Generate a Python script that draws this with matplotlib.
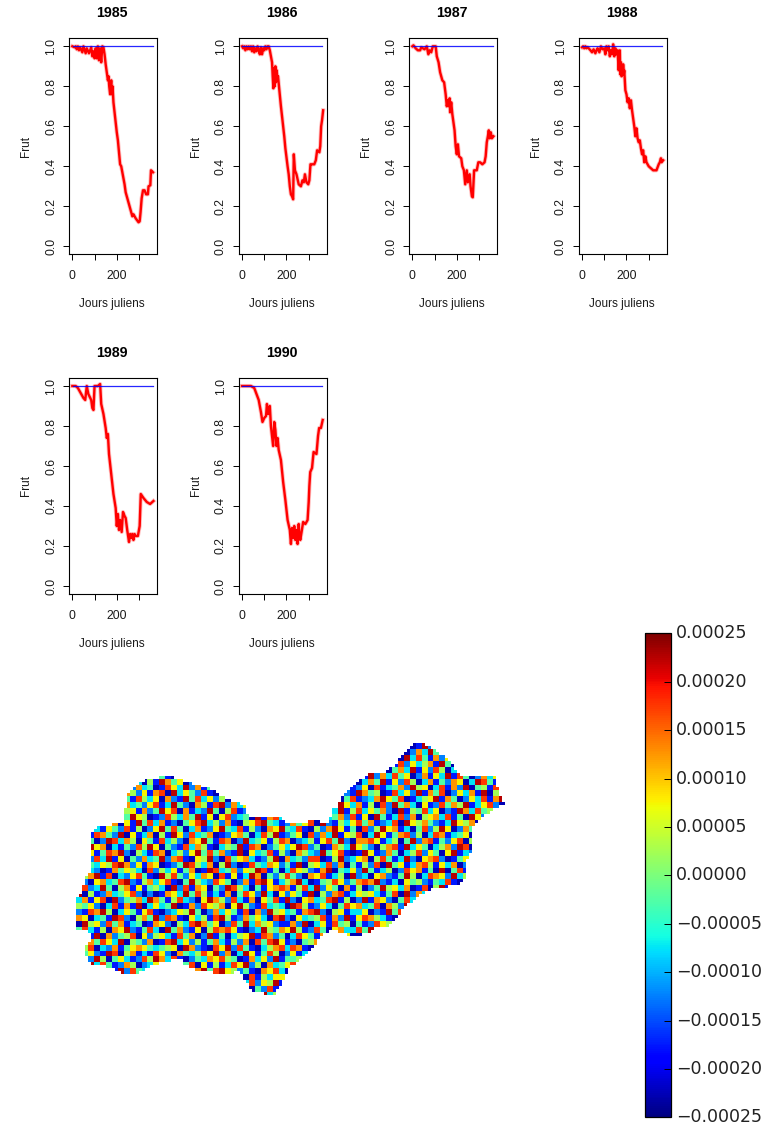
import numpy as np
import matplotlib
matplotlib.use('Agg')
import matplotlib.pyplot as plt
from matplotlib.colors import Normalize

plt.rcParams['font.family'] = ['Liberation Sans', 'DejaVu Sans']

W, H = 776, 1125
YEARS = [1985, 1986, 1987, 1988, 1989, 1990]
XTICKS = [0, 100, 200, 300]
XTICKLABELS = ['0', '', '200', '']
YTICKS = [0.0, 0.2, 0.4, 0.6, 0.8, 1.0]
CBAR_TICKS = [-0.00025, -0.00020, -0.00015, -0.00010, -0.00005, 0.0,
              0.00005, 0.00010, 0.00015, 0.00020, 0.00025]

days_1985 = [0,10,15,20,25,30,35,45,50,60,65,75,85,90,95,100,105,110,115,120,125,130,135,140,145,150,155,160,163,166,170,175,178,181,185,190,195,200,205,210,215,220,225,235,240,250,260,265,270,275,285,298,303,307,312,318,325,332,340,343,351,354,363]
frut_1985 = [1.0,.995,1.0,.985,1.0,.98,.995,.97,1.0,.965,.99,.965,.995,.95,.975,.94,.99,.94,1.0,.93,.99,.92,1.0,.995,.96,.91,.87,.83,.85,.80,.76,.83,.76,.8,.72,.67,.62,.57,.53,.47,.41,.40,.37,.31,.27,.23,.19,.17,.15,.16,.14,.12,.125,.17,.24,.28,.28,.26,.26,.30,.305,.38,.37]
days_1986 = [0,5,10,15,20,25,30,35,40,45,50,55,60,65,70,75,80,85,90,95,100,105,110,115,120,125,130,135,138,141,144,147,150,153,156,159,162,168,175,180,190,195,205,210,215,220,225,230,233,238,245,255,265,272,278,283,290,298,303,308,315,325,332,338,348,352,356,360,365]
frut_1986 = [1.0,.99,1.0,.98,1.0,.985,1.0,.985,1.0,.975,1.0,.97,.99,.975,1.0,.98,.96,.995,.96,.99,.98,1.0,.985,1.0,1.0,.98,.95,.92,.85,.79,.89,.80,.90,.82,.88,.84,.85,.78,.70,.65,.55,.49,.40,.36,.30,.26,.25,.235,.46,.38,.36,.31,.30,.33,.32,.36,.32,.31,.33,.41,.41,.41,.43,.48,.47,.50,.60,.63,.68]
days_1987 = [0,5,15,25,35,40,55,65,72,78,85,92,105,110,118,125,135,143,150,155,160,165,168,170,175,180,190,195,200,205,210,220,225,232,238,245,250,258,262,268,272,278,290,297,305,315,325,330,335,340,344,348,353,358,365]
frut_1987 = [1.0,1.005,.99,.98,.98,.995,.985,1.0,.96,.98,.97,1.0,1.0,.95,.92,.87,.83,.82,.76,.70,.73,.70,.74,.67,.72,.66,.58,.50,.46,.51,.45,.44,.40,.38,.31,.38,.32,.36,.30,.25,.245,.38,.38,.42,.42,.41,.42,.45,.52,.55,.58,.54,.57,.54,.55]
days_1988 = [0,5,10,15,20,25,30,38,45,52,60,65,70,78,85,92,100,105,110,115,120,125,130,135,140,145,150,155,160,165,170,172,175,178,180,183,185,188,190,195,200,205,210,215,220,225,230,235,240,245,250,255,260,265,270,275,280,285,290,300,310,320,335,345,350,355,358,365]
frut_1988 = [.995,1.0,.99,1.0,.99,.995,.99,.98,.97,.985,.965,.98,.99,.97,1.0,.985,.99,.96,1.0,.98,1.0,.95,.98,.96,1.01,.95,.99,.96,.98,.88,.98,.86,.92,.85,.90,.86,.91,.86,.88,.78,.76,.72,.74,.69,.73,.68,.64,.60,.55,.59,.54,.52,.53,.49,.46,.48,.42,.45,.42,.40,.39,.38,.38,.41,.42,.44,.42,.43]
days_1989 = [0,15,25,35,50,58,65,72,85,90,95,100,115,125,130,140,150,155,160,165,175,185,195,200,205,210,215,222,228,235,240,247,255,260,265,270,275,280,285,295,303,308,320,335,350,365]
frut_1989 = [1.0,1.0,.99,.97,.94,.93,1.0,.96,.93,.89,.88,1.0,1.0,1.01,.91,.86,.79,.74,.76,.66,.56,.46,.39,.30,.36,.28,.33,.27,.37,.35,.34,.28,.22,.26,.24,.26,.23,.26,.25,.25,.30,.46,.44,.42,.41,.425]
days_1990 = [0,40,55,65,75,85,92,100,108,112,118,125,130,135,140,145,150,155,160,165,175,185,195,205,215,220,225,230,235,240,245,250,255,258,262,268,275,285,295,300,303,307,315,322,335,342,347,355,363]
frut_1990 = [1.0,1.0,.99,.96,.93,.87,.82,.84,.85,.91,.86,.90,.80,.75,.70,.82,.78,.70,.74,.68,.63,.52,.43,.33,.28,.21,.29,.24,.30,.23,.28,.21,.31,.26,.23,.27,.32,.31,.33,.42,.50,.57,.59,.67,.66,.75,.79,.79,.83]
DAYS = [days_1985, days_1986, days_1987, days_1988, days_1989, days_1990]
FRUT = [frut_1985, frut_1986, frut_1987, frut_1988, frut_1989, frut_1990]

# Outline of the map, one row every 3 units of y: spans of x.
MAP_ROWS = {
743:[(415,425)],746:[(412,430)],749:[(410,436)],752:[(406,441)],755:[(403,446)],758:[(402,450)],
761:[(401,452)],764:[(399,455)],767:[(393,456)],770:[(388,458)],773:[(372,460)],
776:[(162,172),(368,497)],779:[(146,182),(362,497)],782:[(141,190),(358,498)],785:[(138,200),(356,498)],
788:[(134,208),(354,499)],791:[(131,214),(350,500)],794:[(129,218),(347,501)],797:[(128,224),(345,502)],
800:[(127,230),(344,503)],803:[(128,240),(341,505)],806:[(127,244),(340,500)],809:[(126,245),(336,494)],
812:[(125,246),(334,490)],815:[(124,247),(334,486)],818:[(125,282),(332,482)],821:[(124,283),(312,320),(332,480)],
824:[(112,118),(123,476)],827:[(97,474)],830:[(94,474)],833:[(92,474)],836:[(92,474)],839:[(92,474)],
842:[(92,474)],845:[(92,474)],848:[(92,474)],851:[(92,472)],854:[(92,471)],857:[(92,469)],860:[(92,468)],
863:[(92,468)],866:[(92,468)],869:[(92,468)],872:[(91,468)],875:[(90,468)],878:[(87,468)],881:[(86,465)],
884:[(85,460)],887:[(84,448)],890:[(84,432)],893:[(83,424)],896:[(81,418)],899:[(78,415)],902:[(76,413)],
905:[(76,408)],908:[(76,405)],911:[(76,402)],914:[(76,400)],917:[(76,397)],920:[(76,395)],923:[(76,393)],
926:[(76,390)],929:[(76,375)],932:[(88,330),(340,370)],935:[(92,322),(350,363)],938:[(92,320)],941:[(91,318)],
944:[(88,316)],947:[(87,314)],950:[(86,312)],953:[(86,309)],956:[(87,306)],959:[(88,303)],962:[(88,170),(184,300)],
965:[(91,157),(186,296)],968:[(108,150),(190,290)],971:[(116,142),(198,288)],974:[(122,136),(215,232),(242,287)],
977:[(244,285)],980:[(245,284)],983:[(248,282)],986:[(250,280)],989:[(252,278)],992:[(254,276)],995:[(266,275)],
}

# Rough colour-level estimates for 6-unit blocks (0 = darkest blue ... 9 = darkest red).
# Coarse visual estimates of a noisy field, not a cell-by-cell reading of the reference.
MAP_LEVELS = """
283716402938 174629301847 620394817263 940182736405 918273640192 738461920374
619203847561 302918476130 847291036482 719263840517 293648102739 461820739164
347182960413 728490162738 409172836951 203847162039 481726093841 726350184927
802619374085 163847291620 573918204736 182940637182 039471826357 194028361740
471938206147 830261749382 106473829105 637281940372 816204739162 850374619283
196720483916 274108392674 918305627481 930126847305 192738460271 639184027365
038471692830 519746028317 461829073641 820739146280 374916285037 142760398415
752190486273 401863927140 358271904637 261840573912 608134729560 381729045186
264803917526 178093642810 739250186473 912684037219 745018362917 480263719054
819372064185 360721948362 501498263708 146392750481 237964801356 917402638179
405126897342 681394207518 927368140295 763081429637 150829473061 284759136820
173948025617 249680713294 058127396420 816742039158 364720915483 602197384506
690217384965 012853749160 682340917836 120596347281 609413827056 738140962375
248531706194 837120468935 271056894312 746809215368 471238096574 213965708142
907316428150 269484037126 943815207694 381052796140 825967130482 596027413869
531874290613 705196283470 126740385912 460827391658 039614782503 871346092175
164029837506 418352076941 870293461587 023516849207 786135049278 142680591736
829670314285 960421837510 354918702463 698240175396 420578193640 357298014681
306148792053 187035269484 721906348152 075329468101 961274035826 406913287052
752839160427 349278106592 084673125907 342880159236 705841392067 820146397520
014365897261 760124985370 592018437624 190563827041 528094613785 163702984316
893201746530 825361470198 347265981403 865217904362 941350286714 090481563297
457918032684 109584263760 816139704258 420768135092 306721495038 762935018461
120673489215 736810495328 640271896135 793014586247 879213064521 438106729583
682394057161 453092817604 298530416787 158392640715 024956370180 591673284009
905127346820 201763948513 170486293062 641905278136 563148092736 207341859612
371680924573 974158320697 528317064819 206734891502 917620483159 736890124475
546203817190 363490172865 706952183430 985126304867 348075291604 014528967380
218795036416 810236594027 364180729563 417892056133 602194837750 689173024536
760341982057 492871063518 951274630892 063458172916 875310649228 351790486102
095628471340 176205389746 028493756211 729036184504 128653790416 240967815363
483150769214 830947216058 786102395476 951284067338 496027315881 573120496827
631907245806 256318470291 403569187240 386417592600 731942068513 098245713670
127486390542 701893625147 315270848961 204578631929 260473159084 716839052146
958032714676 434560972108 692841035783 871026394551 548106279733 350127968420
346219805713 186207435869 270396148502 613940827605 192763840516 827364190758
712950463128 597381024376 854017362914 450381976201 769204538137 430981276315
069384127502 361729480615 138692507346 827156409362 603821579046 156072843921
534076192843 804156237948 965241076830 392748016525 341976208183 702851346097
281763094517 129570864230 427908153661 160259374807 926018743465 893241670516
816420357196 653048912769 074138265910 748630291543 570349182620 164708593328
405197628034 290731586481 639570428176 305491872066 128560437799 526039481765
739062841560 817426095313 281064793582 679123504841 393872106254 018374265906
"""

def px_axes(fig, x0, y0, x1, y1):
    return fig.add_axes([x0 / W, 1 - y1 / H, (x1 - x0) / W, (y1 - y0) / H])

fig = plt.figure(figsize=(W / 100, H / 100), dpi=100)
TXT = '#1a1a1a'
lefts = [69, 238.7, 409, 578.7]
tops = [38.3, 378]
for i, year in enumerate(YEARS):
    l = lefts[i % 4]
    t = tops[i // 4]
    ax = px_axes(fig, l, t, l + 88, t + 216)
    ax.plot(DAYS[i], FRUT[i], color='red', lw=3.0, alpha=0.25, solid_joinstyle='round')
    ax.plot(DAYS[i], FRUT[i], color='red', lw=1.7, solid_joinstyle='round')
    ax.plot([1, 362], [1, 1], color='blue', lw=0.9, alpha=0.85)
    ax.set_xlim(-15, 381)
    ax.set_ylim(-0.04, 1.04)
    ax.set_xticks(XTICKS)
    ax.set_xticklabels(XTICKLABELS)
    ax.set_yticks(YTICKS)
    ax.set_yticklabels([f'{v:.1f}' for v in YTICKS], rotation=90, va='center')
    ax.tick_params(axis='x', length=4.3, width=0.7, pad=7, labelsize=8.8, labelcolor=TXT)
    ax.tick_params(axis='y', length=4.3, width=0.7, pad=4.3, labelsize=8.8, labelcolor=TXT)
    for s in ax.spines.values():
        s.set_linewidth(0.8)
    ax.set_xlabel('Jours juliens', fontsize=8.5, color=TXT)
    ax.xaxis.set_label_coords(0.49, -0.23)
    ax.xaxis.label.set_va('center')
    ax.set_ylabel('Frut', fontsize=8.5, color=TXT)
    ax.yaxis.set_label_coords(-0.49, 0.5)
    ax.yaxis.label.set_va('center')
    ax.text(0.49, (216 + 25.3) / 216, str(year), transform=ax.transAxes, ha='center',
            va='center', fontsize=10.2, fontweight='bold', color='black')

# Map
X0, X1, Y0, Y1 = 76, 505, 743, 998
levels = np.array([list(r.replace(' ', '')) for r in MAP_LEVELS.strip().splitlines()], dtype=float)
values = -0.000225 + levels * 0.00005
grid = np.full(((Y1 - Y0) // 3 + 1, (X1 - X0) // 3 + 1), np.nan)
for y, spans in MAP_ROWS.items():
    r = (y - Y0) // 3
    for a, b in spans:
        for c in range((a - X0) // 3, (b - X0) // 3 + 1):
            grid[r, c] = values[r // 2, c // 2]
norm = Normalize(-0.00025, 0.00025)
mx = px_axes(fig, X0, Y0, X1, Y1)
mesh = mx.imshow(np.ma.masked_invalid(grid), cmap='jet', norm=norm, aspect='auto',
                 interpolation='nearest', extent=(X0, X1, Y1, Y0))
mx.axis('off')

# Colour bar
cax = px_axes(fig, 644.7, 633.3, 671.3, 1117.3)
cb = fig.colorbar(mesh, cax=cax, ticks=CBAR_TICKS)
cb.ax.set_yticklabels([f'{v:.5f}'.replace('-', '\u2212') for v in CBAR_TICKS],
                      family='DejaVu Sans', fontsize=12.55, color='#222222', va='center')
cb.ax.tick_params(direction='in', length=5, width=0.7, pad=3.5)
cb.outline.set_linewidth(0.9)

fig.savefig('out.png', dpi=100)
